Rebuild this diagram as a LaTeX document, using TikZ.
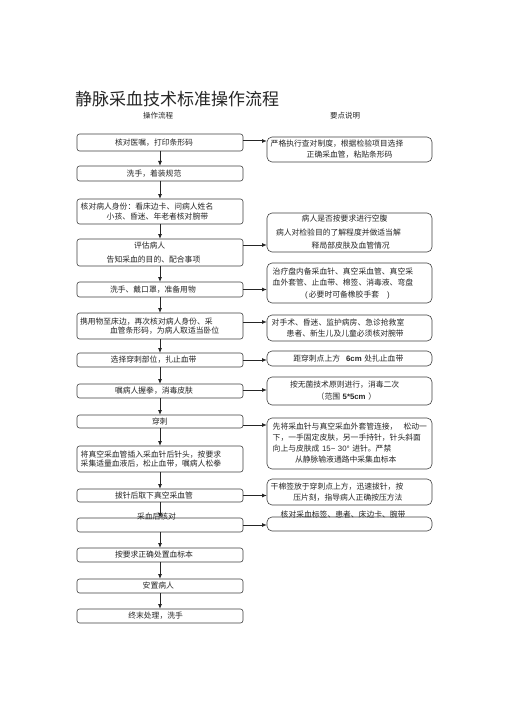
\documentclass[tikz,border=0pt]{standalone}
\usepackage{fontspec}
\setmainfont{Noto Sans CJK SC}
\newfontfamily\lat{Liberation Sans}
\usetikzlibrary{arrows.meta}
\newcommand\fz[2]{\fontsize{#1}{#2}\selectfont}
\begin{document}
\begin{tikzpicture}[x=1pt,y=-1pt,
  every node/.style={inner sep=0pt, outer sep=0pt},
  lbox/.style={draw=black!75, line width=0.6pt, rounded corners=2.5pt, text width=160pt,
    inner xsep=3pt, inner ysep=0pt, align=left, font=\fz{7.8}{10.5}, text=black!85},
  rbox/.style={lbox, rounded corners=5pt, text width=159pt},
  varr/.style={draw=black!85, line width=0.8pt, -{Latex[length=5pt,width=4pt]}},
  harr/.style={varr, line width=1pt},
  lab/.style={font=\fz{7.8}{10}, text=black!85, anchor=west},
]
\fill[white] (0,0) rectangle (505,714);
\useasboundingbox (0,0) rectangle (505,714);

% title and headers
\node[anchor=west, font=\fz{17}{17}, text=black!85] (title) at (75,99) {静脉采血技术标准操作流程};
\node[font=\fz{7.5}{9}, text=black!85] (h1) at (158,116) {操作流程};
\node[font=\fz{7.5}{9}, text=black!85] (h2) at (345,116) {要点说明};

% left column
\node[lbox, minimum height=17pt] (b1) at (160,142.5) {\hspace*{35pt}核对医嘱，打印条形码};
\node[lbox, minimum height=15pt] (b2) at (160,173.5) {\hspace*{46.7pt}洗手，着装规范};
\node[lbox, minimum height=25pt] (b3) at (160,211.5) {\hspace*{0.7pt}核对病人身份：看床边卡、问病人姓名\\\hspace*{26.7pt}小孩、昏迷、年老者核对腕带};
\node[lbox, minimum height=27pt] (b4) at (160,252.5) {\hspace*{54pt}评估病人\\[3.5pt]\hspace*{26.7pt}告知采血的目的、配合事项};
\node[lbox, minimum height=15pt] (b5) at (160,289.5) {\hspace*{30pt}洗手、戴口罩，准备用物};
\node[lbox, minimum height=26pt] (b6) at (160,326) {携用物至床边，再次核对病人身份、采\\[-1pt]\hspace*{30pt}血管条形码，为病人取适当卧位};
\node[lbox, minimum height=14pt] (b7) at (160,360) {\hspace*{30.7pt}选择穿刺部位，扎止血带};
\node[lbox, minimum height=14pt] (b8) at (160,391) {\hspace*{35pt}嘱病人握拳，消毒皮肤};
\node[lbox, minimum height=13pt] (b9) at (160,421.5) {\hspace*{72pt}穿刺};
\node[lbox, minimum height=26pt] (b10) at (160,459) {\hspace*{0.7pt}将真空采血管插入采血针后针头，按要求\\[-1pt]\hspace*{0.7pt}采集适量血液后，松止血带，嘱病人松拳};
\node[lbox, minimum height=13pt] (b11) at (160,495.5) {\hspace*{35pt}拔针后取下真空采血管};
\node[lbox, minimum height=14pt] (b12) at (160,525) {};
\node[lbox, minimum height=14pt] (b13) at (160,555) {\hspace*{35pt}按要求正确处置血标本};
\node[lbox, minimum height=14pt] (b14) at (160,586) {\hspace*{62.7pt}安置病人};
\node[lbox, minimum height=14pt] (b15) at (160,616) {\hspace*{48.3pt}终末处理，洗手};
\node[lab] (l12) at (137,516.5) {采血后核对};

% right column
\node[rbox, minimum height=25pt] (r1) at (349.5,149.5) {\hspace*{0.7pt}严格执行查对制度，根据检验项目选择\\[0.5pt]\hspace*{36.7pt}正确采血管，粘贴条形码};
\node[rbox, minimum height=39pt] (r2) at (349.5,232.5) {\hspace*{31.7pt}病人是否按要求进行空腹\\[3pt]\hspace*{6pt}病人对检验目的了解程度并做适当解\\[3pt]\hspace*{41.7pt}释局部皮肤及血管情况};
\node[rbox, minimum height=40pt] (r3) at (349.5,283) {\hspace*{2.7pt}治疗盘内备采血针、真空采血管、真空采\\[1pt]\hspace*{2.7pt}血外套管、止血带、棉签、消毒液、弯盘\\[1pt]\hspace*{35pt}{\lat (}\,必要时可备橡胶手套\hspace{8pt}{\lat )}};
\node[rbox, minimum height=26pt] (r4) at (349.5,328) {\hspace*{1.7pt}对手术、昏迷、监护病房、急诊抢救室\\[0.5pt]\hspace*{16.7pt}患者、新生儿及儿童必须核对腕带};
\node[rbox, minimum height=15pt] (r5) at (349.5,358.5) {\hspace*{23.3pt}距穿刺点上方\hspace{6pt}{\lat\bfseries 6cm} 处扎止血带};
\node[rbox, minimum height=28pt] (r6) at (349.5,391) {\hspace*{20pt}按无菌技术原则进行，消毒二次\\[1.5pt]\hspace*{46.7pt}（范围 {\lat\bfseries 5*5cm} ）};
\node[rbox, minimum height=51pt] (r7) at (349.5,443.5) {\hspace*{2.7pt}先将采血针与真空采血外套管连接，\hspace{6pt}松动一\\[0.5pt]\hspace*{2.7pt}下，一手固定皮肤，另一手持针，针头斜面\\[0.5pt]\hspace*{2.7pt}向上与皮肤成 {\lat 15\textasciitilde{} 30°} 进针。严禁\\[0.5pt]\hspace*{25pt}从静脉输液通路中采集血标本};
\node[rbox, minimum height=26pt] (r8) at (349.5,492) {\hspace*{0.7pt}干棉签放于穿刺点上方，迅速拔针，按\\[0.5pt]\hspace*{23.3pt}压片刻，指导病人正确按压方法};
\node[rbox, minimum height=14pt] (r9) at (349.5,524) {};
\node[lab] (l9) at (280.7,515) {核对采血标签、患者、床边卡、腕带};

% vertical connectors
\foreach \a/\b in {b1/b2,b2/b3,b3/b4,b4/b5,b5/b6,b6/b7,b7/b8,b8/b9,b9/b10,b10/b11,b11/b12,b12/b13,b13/b14,b14/b15}
  \draw[varr] (\a.south) -- (\b.north);

% horizontal connectors
\coordinate (a1) at ([yshift=1.5pt]b1.east);
\coordinate (a2) at ([yshift=7.5pt]b4.east);
\coordinate (a3) at (b5.east);
\coordinate (a4) at ([yshift=4pt]b6.east);
\coordinate (a5) at (b7.east);
\coordinate (a6) at ([yshift=1pt]b8.east);
\coordinate (a7) at ([yshift=-3.5pt]b9.east);
\coordinate (a8) at (b11.east);
\coordinate (a9) at (b12.east);
\foreach \c/\r in {a1/r1,a2/r2,a3/r3,a4/r4,a5/r5,a6/r6,a7/r7,a8/r8,a9/r9}
  \draw[harr] (\c) -- (\c -| \r.west);
\end{tikzpicture}
\end{document}
